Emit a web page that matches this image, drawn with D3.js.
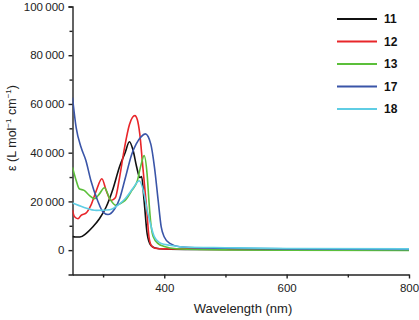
<!DOCTYPE html>
<html>
<head>
<meta charset="utf-8">
<script src="https://cdn.jsdelivr.net/npm/d3@7"></script>
<style>
  body { margin: 0; background: #fff; }
  svg { display: block; font-family: "Liberation Sans", Arial, sans-serif; }
  .axis path, .axis line { stroke: #222; stroke-width: 1.4; }
  .axis text { font-size: 11.5px; fill: #222; }
  .legend text { font-size: 12px; font-weight: bold; fill: #111; }
</style>
</head>
<body>
<svg id="chart" width="419" height="320"></svg>
<script>
// ---- data ----
const names = ['11', '12', '13', '17', '18'];
const colors = ['#111111', '#e8262a', '#5bbf3a', '#3a55a8', '#5fcde4'];

const wl11  = [250,255,262,272,283,294,305,316,327,336,343,349,355,360,363,367,372,378,385,400,450,500,600,700,800];
const eps11 = [5600,5400,5400,6800,9500,12900,17700,25000,34300,40000,44500,41000,34000,29800,30200,20400,6800,2000,900,500,300,250,200,150,100];

const wl12  = [250,253,259,264,272,280,289,298,305,313,320,327,335,343,348,352,356,360,365,371,375,379,385,400,500,600,800];
const eps12 = [16500,13800,12900,14300,15200,18400,24500,29300,24500,20400,21500,29900,42000,51500,54500,55200,53500,47600,34000,17700,5400,1800,800,500,300,250,200];

const wl13  = [250,256,261,269,278,286,294,302,311,321,327,336,347,356,362,367,372,375,378,382,390,400,420,500,600,800];
const eps13 = [34000,28600,25200,24500,22400,21100,23100,25600,21100,18400,19000,20400,24500,28500,35000,38800,31000,20000,11000,5500,2700,1500,600,100,0,-100];

const wl17  = [250,256,264,272,280,291,300,308,319,327,336,347,354,362,369,378,384,390,395,400,409,425,450,500,600,800];
const eps17 = [62600,50300,42200,36700,28600,20400,15600,14600,17000,21100,29300,39500,43500,46500,47700,43500,34000,20400,9500,5400,2800,1400,1000,800,500,300];

const wl18  = [250,267,289,311,327,336,350,359,367,372,376,384,395,409,430,500,600,800];
const eps18 = [19300,17700,16300,16600,19000,21100,25800,28500,23100,16300,12200,5400,2700,2000,1300,1000,700,500];

const yMajor = [0, 20000, 40000, 60000, 80000, 100000];
const yMinor = [10000, 30000, 50000, 70000, 90000];
const xMajor = [400, 600, 800];
const xMinor = [300, 500, 700];

const series = [
  { wl: wl11, eps: eps11 },
  { wl: wl12, eps: eps12 },
  { wl: wl13, eps: eps13 },
  { wl: wl17, eps: eps17 },
  { wl: wl18, eps: eps18 }
].map((s, i) => ({ name: names[i], color: colors[i], pts: s.wl.map((w, j) => [w, s.eps[j]]) }));

// ---- layout ----
const svg = d3.select('#chart');
const x = d3.scaleLinear().domain([250, 800]).range([72.5, 409]);
const y = d3.scaleLinear().domain([-10000, 100000]).range([274.5, 6.5]);

const thin = d => d3.format(',')(d).replace(/,/g, '\u2009');

// y axis: labelled major ticks + short minor ones
svg.append('g').attr('class', 'axis')
  .attr('transform', `translate(${x.range()[0]},0)`)
  .call(d3.axisLeft(y).tickValues(yMajor).tickSize(4).tickPadding(4).tickFormat(thin));
svg.append('g').attr('class', 'axis')
  .attr('transform', `translate(${x.range()[0]},0)`)
  .call(d3.axisLeft(y).tickValues(yMinor).tickSize(3).tickFormat('').tickSizeOuter(0))
  .select('.domain').remove();

// x axis
svg.append('g').attr('class', 'axis')
  .attr('transform', `translate(0,${y.range()[0]})`)
  .call(d3.axisBottom(x).tickValues(xMajor).tickSize(4).tickPadding(5).tickSizeOuter(0));
svg.append('g').attr('class', 'axis')
  .attr('transform', `translate(0,${y.range()[0]})`)
  .call(d3.axisBottom(x).tickValues(xMinor).tickSize(3).tickFormat(''))
  .select('.domain').remove();

// clip lines to plot box
svg.append('clipPath').attr('id', 'plot-clip')
  .append('rect').attr('x', x.range()[0]).attr('y', y.range()[1])
  .attr('width', x.range()[1] - x.range()[0]).attr('height', y.range()[0] - y.range()[1]);

const line = d3.line()
  .x(d => x(d[0]))
  .y(d => y(d[1]))
  .curve(d3.curveMonotoneX);

svg.append('g').attr('clip-path', 'url(#plot-clip)')
  .selectAll('path')
  .data(series)
  .join('path')
    .attr('fill', 'none')
    .attr('stroke', d => d.color)
    .attr('stroke-width', 1.6)
    .attr('stroke-linejoin', 'round')
    .attr('d', d => line(d.pts));

// axis titles
svg.append('text')
  .attr('x', 243).attr('y', 313)
  .attr('text-anchor', 'middle')
  .attr('font-size', 13).attr('fill', '#222')
  .text('Wavelength (nm)');

const yt = svg.append('text')
  .attr('transform', 'translate(16,128) rotate(-90)')
  .attr('text-anchor', 'middle')
  .attr('font-size', 12.5).attr('fill', '#222');
yt.append('tspan').text('\u03b5 (L mol');
yt.append('tspan').attr('font-size', 8).attr('dy', -5).text('\u22121');
yt.append('tspan').attr('dy', 5).text(' cm');
yt.append('tspan').attr('font-size', 8).attr('dy', -5).text('\u22121');
yt.append('tspan').attr('dy', 5).text(')');

// legend
const lg = svg.append('g').attr('class', 'legend')
  .selectAll('g')
  .data(series)
  .join('g')
    .attr('transform', (d, i) => `translate(337,${19 + i * 22.5})`);
lg.append('line')
  .attr('x1', 0).attr('x2', 40)
  .attr('stroke', d => d.color).attr('stroke-width', 1.8);
lg.append('text')
  .attr('x', 47).attr('dy', '0.36em')
  .text(d => d.name);
</script>
</body>
</html>
